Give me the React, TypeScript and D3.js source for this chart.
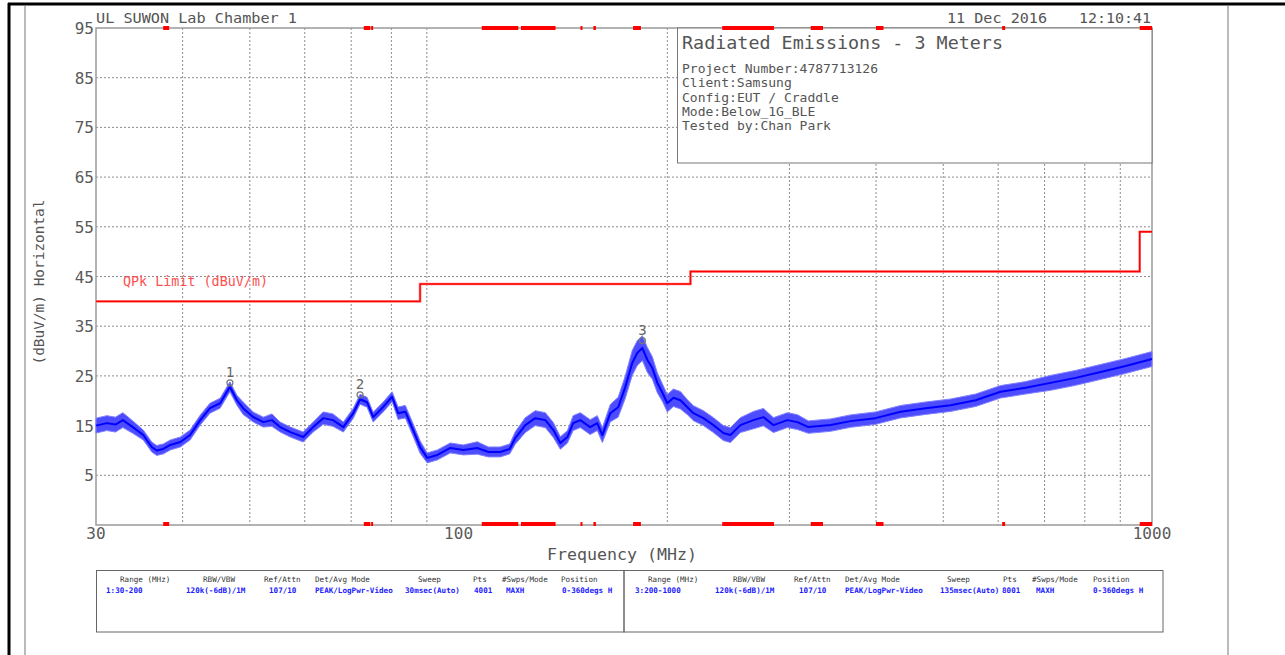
import React from "react";
import * as d3 from "d3";

// ---------- data ----------
const yTickValues = [95, 85, 75, 65, 55, 45, 35, 25, 15, 5];
const xGridValues = [40, 50, 60, 70, 80, 90, 200, 300, 400, 500, 600, 700, 800, 900];
const xLabelValues = [30, 100, 1000];

// QPk limit steps [start MHz, level dBuV/m]
const limitSteps: [number, number][] = [
  [30, 40],
  [88, 43.5],
  [216, 46],
  [960, 54],
  [1000, 54],
];

// restricted bands (MHz) drawn as red marks on top/bottom axes
const restrictedBands: [number, number][] = [
  [37.5, 38.25],
  [73, 74.6],
  [74.8, 75.2],
  [108, 121.94],
  [123, 138],
  [149.9, 150.05],
  [156.52475, 156.52525],
  [156.7, 156.9],
  [178.5, 183.2],
  [240, 285],
  [322, 335.4],
  [399.9, 410],
  [608, 614],
  [960, 1000],
];

// measured peak trace [MHz, mean level dBuV/m, noise spread dB]
const trace: [number, number, number][] = [
  [30.0, 15.0, 3], [31.1, 15.5, 3], [32.0, 15.2, 3], [32.8, 16.1, 3], [33.9, 14.7, 2.5], [35.1, 13.1, 2],
  [36.1, 10.7, 2], [36.7, 10.0, 2], [37.5, 10.3, 2], [38.4, 11.1, 2], [39.7, 11.7, 2], [41.0, 13.1, 2],
  [42.4, 16.1, 2], [43.8, 18.5, 2], [45.3, 19.5, 2], [46.8, 22.8, 2], [47.9, 20.1, 2], [48.9, 18.5, 2.5],
  [50.6, 16.7, 2], [52.3, 15.7, 2], [53.8, 16.1, 2.5], [55.3, 14.7, 2], [57.2, 13.7, 2], [59.7, 12.7, 2],
  [61.7, 14.7, 2], [63.8, 16.5, 2.5], [65.9, 16.1, 2.5], [68.2, 14.7, 2], [70.5, 17.5, 2], [72.1, 20.3, 2],
  [73.8, 19.7, 2], [75.3, 16.7, 2], [77.8, 18.7, 2], [80.2, 20.8, 2], [81.8, 17.5, 2.5], [83.8, 17.8, 2.5],
  [86.0, 14.1, 2.5], [88.0, 10.7, 2.5], [90.1, 8.5, 2], [93.2, 9.1, 2], [97.3, 10.5, 2], [101.6, 10.1, 2],
  [106.4, 10.5, 2.5], [110.4, 9.7, 2], [114.8, 9.7, 2], [118.5, 10.3, 2], [120.7, 12.5, 2.5], [124.8, 15.1, 3],
  [129.0, 16.5, 3], [133.4, 16.1, 3], [137.0, 14.1, 3], [140.2, 11.5, 2.5], [143.5, 12.7, 2.5], [146.3, 15.5, 3],
  [149.8, 16.1, 3], [154.8, 14.7, 3], [158.5, 15.5, 3], [161.2, 13.1, 3], [165.5, 17.5, 3.5], [169.9, 18.7, 4],
  [173.9, 22.7, 4.5], [178.0, 27.6, 5], [181.0, 29.6, 5], [184.1, 30.6, 5], [187.2, 28.2, 5], [190.3, 26.6, 4.5],
  [193.5, 23.6, 4], [196.8, 21.6, 3.5], [200.0, 19.5, 3.5], [204.1, 20.6, 3.5], [208.9, 20.1, 3.5], [213.8, 18.7, 3],
  [218.1, 17.5, 3], [225.5, 16.5, 3], [233.1, 15.1, 3], [240.9, 13.5, 3], [246.6, 13.1, 3], [254.9, 15.1, 3],
  [266.2, 16.1, 3.5], [275.2, 16.7, 3.5], [284.5, 15.1, 3], [298.0, 16.1, 3], [308.1, 15.7, 3], [319.5, 14.7, 2.5],
  [343.9, 15.1, 2.5], [367.4, 15.9, 2.5], [399.3, 16.5, 2.5], [434.0, 17.8, 2.5], [471.6, 18.5, 2.5], [512.3, 19.1, 2.5],
  [556.7, 20.1, 2.5], [604.8, 21.8, 2.5], [657.1, 22.6, 2.5], [714.0, 23.6, 3], [775.9, 24.6, 3], [843.2, 25.8, 3],
  [916.0, 27.0, 3], [1000, 28.4, 3],
];

const markerNo = [1, 2, 3];
const markerFreq = [46.8, 72.1, 184.1];
const markerLevel = [23.6, 21.2, 32.1];

const headerLeft = "UL SUWON Lab Chamber 1";
const headerDate = "11 Dec 2016";
const headerTime = "12:10:41";
const legendTitle = "Radiated Emissions - 3 Meters";
const legendLines = [
  "Project Number:4787713126",
  "Client:Samsung",
  "Config:EUT / Craddle",
  "Mode:Below_1G_BLE",
  "Tested by:Chan Park",
];
const tableHeaders = ["Range (MHz)", "RBW/VBW", "Ref/Attn", "Det/Avg Mode", "Sweep", "Pts", "#Swps/Mode", "Position"];
const tableRow1 = ["1:30-200", "120k(-6dB)/1M", "107/10", "PEAK/LogPwr-Video", "30msec(Auto)", "4001", "MAXH", "0-360degs H"];
const tableRow2 = ["3:200-1000", "120k(-6dB)/1M", "107/10", "PEAK/LogPwr-Video", "135msec(Auto)", "8001", "MAXH", "0-360degs H"];

// ---------- layout ----------
const W = 1285;
const H = 655;
const PL = 96, PR = 1152, PT = 28, PB = 525;
const FONT = "'DejaVu Sans Mono', 'Liberation Mono', monospace";

const headerX1 = [120, 203, 264, 315, 418, 473, 502, 561];
const valueX1 = [106, 186, 269, 315, 405, 474, 506, 562];
const headerX2 = [648, 733, 794, 845, 947, 1003, 1032, 1093];
const valueX2 = [635, 715, 799, 845, 940, 1002, 1036, 1093];

export default function App() {
  const x = d3.scaleLog().domain([30, 1000]).range([PL, PR]);
  const y = d3.scaleLinear().domain([-5, 95]).range([PB, PT]);

  const limitPath = d3
    .line<[number, number]>()
    .x((d) => x(d[0]))
    .y((d) => y(d[1]))
    .curve(d3.curveStepAfter)(limitSteps) as string;

  const tracePath = d3
    .line<[number, number, number]>()
    .x((d) => x(d[0]))
    .y((d) => y(d[1]))(trace) as string;

  const bandPath = d3
    .area<[number, number, number]>()
    .x((d) => x(d[0]))
    .y0((d) => y(d[1] - d[2] / 2))
    .y1((d) => y(d[1] + d[2] / 2))(trace) as string;

  const gridColor = "#8c8c8c";
  const axisColor = "#9a9a9a";
  const textGray = "#5a5a5a";

  return (
    <svg
      width={W}
      height={H}
      viewBox={`0 0 ${W} ${H}`}
      style={{ position: "absolute", left: 0, top: 0, background: "#fff" }}
    >
      <rect x={0} y={0} width={W} height={H} fill="#fff" />
      {/* outer frame */}
      <line x1={8} y1={4} x2={W} y2={4} stroke="#000" strokeWidth={3} />
      <line x1={9} y1={3} x2={9} y2={H} stroke="#000" strokeWidth={3} />
      <line x1={25} y1={5} x2={25} y2={H} stroke="#777" strokeWidth={1} />
      <line x1={1228} y1={5} x2={1228} y2={H} stroke="#777" strokeWidth={1} />

      {/* grid */}
      {yTickValues
        .filter((v) => v !== 95)
        .map((v) => (
          <line key={"gy" + v} x1={PL} x2={PR} y1={y(v)} y2={y(v)} stroke={gridColor} strokeWidth={1} strokeDasharray="2,2" />
        ))}
      {xGridValues.map((v) => (
        <line key={"gx" + v} x1={x(v)} x2={x(v)} y1={PT} y2={PB} stroke={gridColor} strokeWidth={1} strokeDasharray="2,2" />
      ))}
      {/* frame */}
      <rect x={PL} y={PT} width={PR - PL} height={PB - PT} fill="none" stroke={axisColor} strokeWidth={1.5} />

      {/* legend box */}
      <rect x={677.5} y={PT} width={PR - 677.5} height={135} fill="#fff" stroke="#777" strokeWidth={1} />
      <text x={682} y={48.5} fontFamily={FONT} fontSize={17} fill="#555" textLength={321} lengthAdjust="spacingAndGlyphs">
        {legendTitle}
      </text>
      {legendLines.map((s, i) => (
        <text key={s} x={682} y={73 + i * 14.3} fontFamily={FONT} fontSize={12.8} fill="#555" textLength={s.length * 7.84} lengthAdjust="spacingAndGlyphs">
          {s}
        </text>
      ))}

      {/* restricted band marks */}
      {restrictedBands.map(([a, b], i) => (
        <g key={"rb" + i}>
          <rect x={x(a)} y={PT - 2} width={Math.max(2, x(b) - x(a))} height={4} fill="#ff0000" />
          <rect x={x(a)} y={PB - 3} width={Math.max(2, x(b) - x(a))} height={4} fill="#ff0000" />
        </g>
      ))}

      {/* limit line */}
      <path d={limitPath} fill="none" stroke="#ff8080" strokeWidth={2.6} />
      <path d={limitPath} fill="none" stroke="#ff0000" strokeWidth={1.4} />
      <text x={123} y={286} fontFamily={FONT} fontSize={13.5} fill="#ff5050" textLength={145} lengthAdjust="spacingAndGlyphs">
        QPk Limit (dBuV/m)
      </text>

      {/* trace */}
      <path d={bandPath} fill="#4d4dff" stroke="#8080ff" strokeWidth={1} strokeLinejoin="round" />
      <path d={tracePath} fill="none" stroke="#0000ff" strokeWidth={2} strokeLinejoin="round" />

      {/* markers */}
      {markerNo.map((n, i) => (
        <g key={"m" + n}>
          <circle cx={x(markerFreq[i])} cy={y(markerLevel[i])} r={3} fill="none" stroke="#777" strokeWidth={1.2} />
          <text x={x(markerFreq[i])} y={y(markerLevel[i]) - 5.5} textAnchor="middle" fontFamily={FONT} fontSize={14} fill="#666">
            {n}
          </text>
        </g>
      ))}

      {/* y axis labels */}
      {yTickValues.map((v) => (
        <text key={"yl" + v} x={94} y={y(v) + 6} textAnchor="end" fontFamily={FONT} fontSize={16} fill={textGray}>
          {v}
        </text>
      ))}
      <text
        transform={`translate(44, 282) rotate(-90)`}
        textAnchor="middle"
        fontFamily={FONT}
        fontSize={13.5}
        fill="#555"
        textLength={165}
        lengthAdjust="spacingAndGlyphs"
      >
        (dBuV/m) Horizontal
      </text>

      {/* x axis labels */}
      {xLabelValues.map((v) => (
        <text key={"xl" + v} x={x(v)} y={539} textAnchor="middle" fontFamily={FONT} fontSize={16} fill={textGray}>
          {v}
        </text>
      ))}
      <text x={622} y={560} textAnchor="middle" fontFamily={FONT} fontSize={16} fill="#555" textLength={150} lengthAdjust="spacingAndGlyphs">
        Frequency (MHz)
      </text>

      {/* header */}
      <text x={96} y={22.5} fontFamily={FONT} fontSize={14.5} fill="#555" textLength={201} lengthAdjust="spacingAndGlyphs">
        {headerLeft}
      </text>
      <text x={947} y={22.5} fontFamily={FONT} fontSize={14.5} fill="#555" textLength={100} lengthAdjust="spacingAndGlyphs">
        {headerDate}
      </text>
      <text x={1079} y={22.5} fontFamily={FONT} fontSize={14.5} fill="#555" textLength={72} lengthAdjust="spacingAndGlyphs">
        {headerTime}
      </text>

      {/* bottom table */}
      <rect x={96.5} y={570.5} width={527.5} height={61.5} fill="none" stroke="#666" strokeWidth={1} />
      <rect x={624} y={570.5} width={539} height={61.5} fill="none" stroke="#666" strokeWidth={1} />
      {tableHeaders.map((s, i) => (
        <g key={"th" + i}>
          <text x={headerX1[i]} y={582} fontFamily={FONT} fontSize={7.6} fill="#333">{s}</text>
          <text x={headerX2[i]} y={582} fontFamily={FONT} fontSize={7.6} fill="#333">{s}</text>
        </g>
      ))}
      {tableRow1.map((s, i) => (
        <text key={"r1" + i} x={valueX1[i]} y={592.5} fontFamily={FONT} fontSize={7.6} fontWeight="bold" fill="#2020ff">{s}</text>
      ))}
      {tableRow2.map((s, i) => (
        <text key={"r2" + i} x={valueX2[i]} y={592.5} fontFamily={FONT} fontSize={7.6} fontWeight="bold" fill="#2020ff">{s}</text>
      ))}
    </svg>
  );
}
